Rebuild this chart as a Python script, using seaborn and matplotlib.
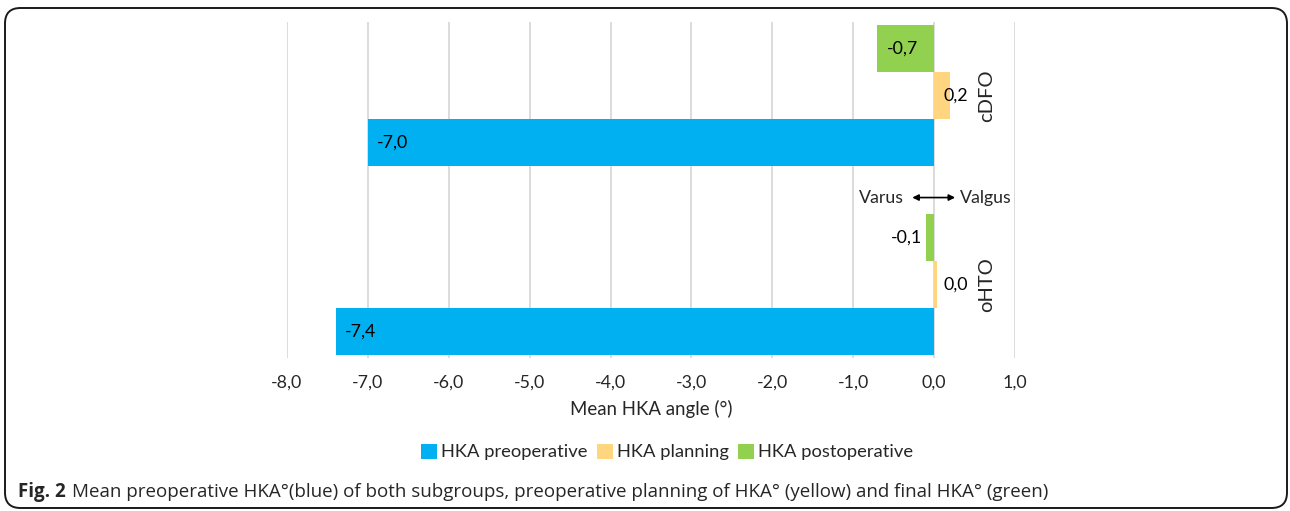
import matplotlib
matplotlib.use("Agg")
import matplotlib.pyplot as plt
import seaborn as sns
import pandas as pd
from matplotlib.patches import FancyBboxPatch, Patch

# ---- data ----
groups = ["cDFO", "oHTO"]
series = ["HKA preoperative", "HKA planning", "HKA postoperative"]
preoperative = [-7.0, -7.4]
planning = [0.2, 0.03]
postoperative = [-0.7, -0.1]
x_ticks = [-8, -7, -6, -5, -4, -3, -2, -1, 0, 1]
colors = {"HKA preoperative": "#00B0F0",
          "HKA planning": "#FFD580",
          "HKA postoperative": "#92D050"}

rows = []
for name, vals in zip(series, [preoperative, planning, postoperative]):
    for g, v in zip(groups, vals):
        rows.append({"group": g, "series": name, "value": v})
df = pd.DataFrame(rows)

sns.set_theme(style="white")
plt.rcParams["font.family"] = ["Lato", "DejaVu Sans"]

W, H = 1290, 511
fig = plt.figure(figsize=(W / 100, H / 100), dpi=100)
ax = fig.add_axes([287 / W, 1 - 358 / H, 728 / W, 336 / H])

hue_order = ["HKA postoperative", "HKA planning", "HKA preoperative"]
sns.barplot(data=df, y="group", x="value", hue="series", hue_order=hue_order,
            order=groups, palette=colors, orient="h", width=0.75, ax=ax,
            saturation=1, linewidth=0, legend=False, errorbar=None)

ax.set_xlim(x_ticks[0], x_ticks[-1])
ax.set_ylim(1.39, -0.39)
ax.set_xticks(x_ticks)
ax.set_xticklabels([f"{t:.1f}".replace(".", ",") for t in x_ticks], fontsize=12.8)
ax.set_yticks([])
ax.set_ylabel("")
ax.set_xlabel("Mean HKA angle (°)", fontsize=13.4, labelpad=7)
ax.tick_params(axis="x", length=0, pad=12)
for s in ax.spines.values():
    s.set_visible(False)
ax.grid(axis="x", color="#D9D9D9", lw=1.3)
ax.set_axisbelow(True)

# value labels (offsets in points; 1 px = 0.72 pt at 100 dpi)
for cont in ax.containers:
    for bar in cont:
        val = bar.get_x() + bar.get_width() if bar.get_x() >= 0 else bar.get_x()
        yc = bar.get_y() + bar.get_height() / 2
        if val < -0.3:
            xy, off, ha = (val, yc), (6.5, 0), "left"
        elif val < 0:
            xy, off, ha = (val, yc), (-3, 0), "right"
        else:
            xy, off, ha = (0, yc), (6.5, 0), "left"
        txt = f"{val:.1f}".replace(".", ",")
        ax.annotate(txt, xy=xy, xytext=off, textcoords="offset points",
                    ha=ha, va="center", fontsize=12.8, color="black")

# group labels
for i, g in enumerate(groups):
    ax.text(0.65, i, g, rotation=90, ha="center", va="center", fontsize=14.5)

# Varus <-> Valgus
ya = 0.54
ax.annotate("", xy=(0.26, ya), xytext=(-0.27, ya),
            arrowprops=dict(arrowstyle="<|-|>", color="black", lw=1.2,
                            mutation_scale=9, shrinkA=0, shrinkB=0))
ax.text(-0.37, ya, "Varus", ha="right", va="center", fontsize=12.8)
ax.text(0.32, ya, "Valgus", ha="left", va="center", fontsize=12.8)

# legend
handles = [Patch(facecolor=colors[s], edgecolor="none") for s in series]
fig.legend(handles, series, loc="center", bbox_to_anchor=(667 / W, 1 - 452 / H),
           ncol=3, frameon=False, fontsize=13.2, handlelength=0.9,
           handleheight=0.9, handletextpad=0.2, columnspacing=0.5)

# caption
cap_font = ["Open Sans", "DejaVu Sans"]
t1 = fig.text(18 / W, 1 - 492 / H, "Fig. 2", fontsize=13.5, fontweight="bold",
              family=cap_font, va="center", ha="left")
fig.canvas.draw()
bb = t1.get_window_extent()
fig.text((bb.x1 + 6) / W, 1 - 492 / H,
         "Mean preoperative HKA°(blue) of both subgroups, preoperative planning of HKA° (yellow) and final HKA° (green)",
         fontsize=13.5, family=cap_font, va="center", ha="left")

# rounded border
box = FancyBboxPatch((5 / W, 1 - 508 / H), 1282 / W, 500 / H,
                     boxstyle="round,pad=0,rounding_size=0.012",
                     transform=fig.transFigure, fill=False,
                     edgecolor="#1a1a1a", lw=1.4, mutation_aspect=W / H)
fig.patches.append(box)

fig.savefig("out.png", dpi=100)
